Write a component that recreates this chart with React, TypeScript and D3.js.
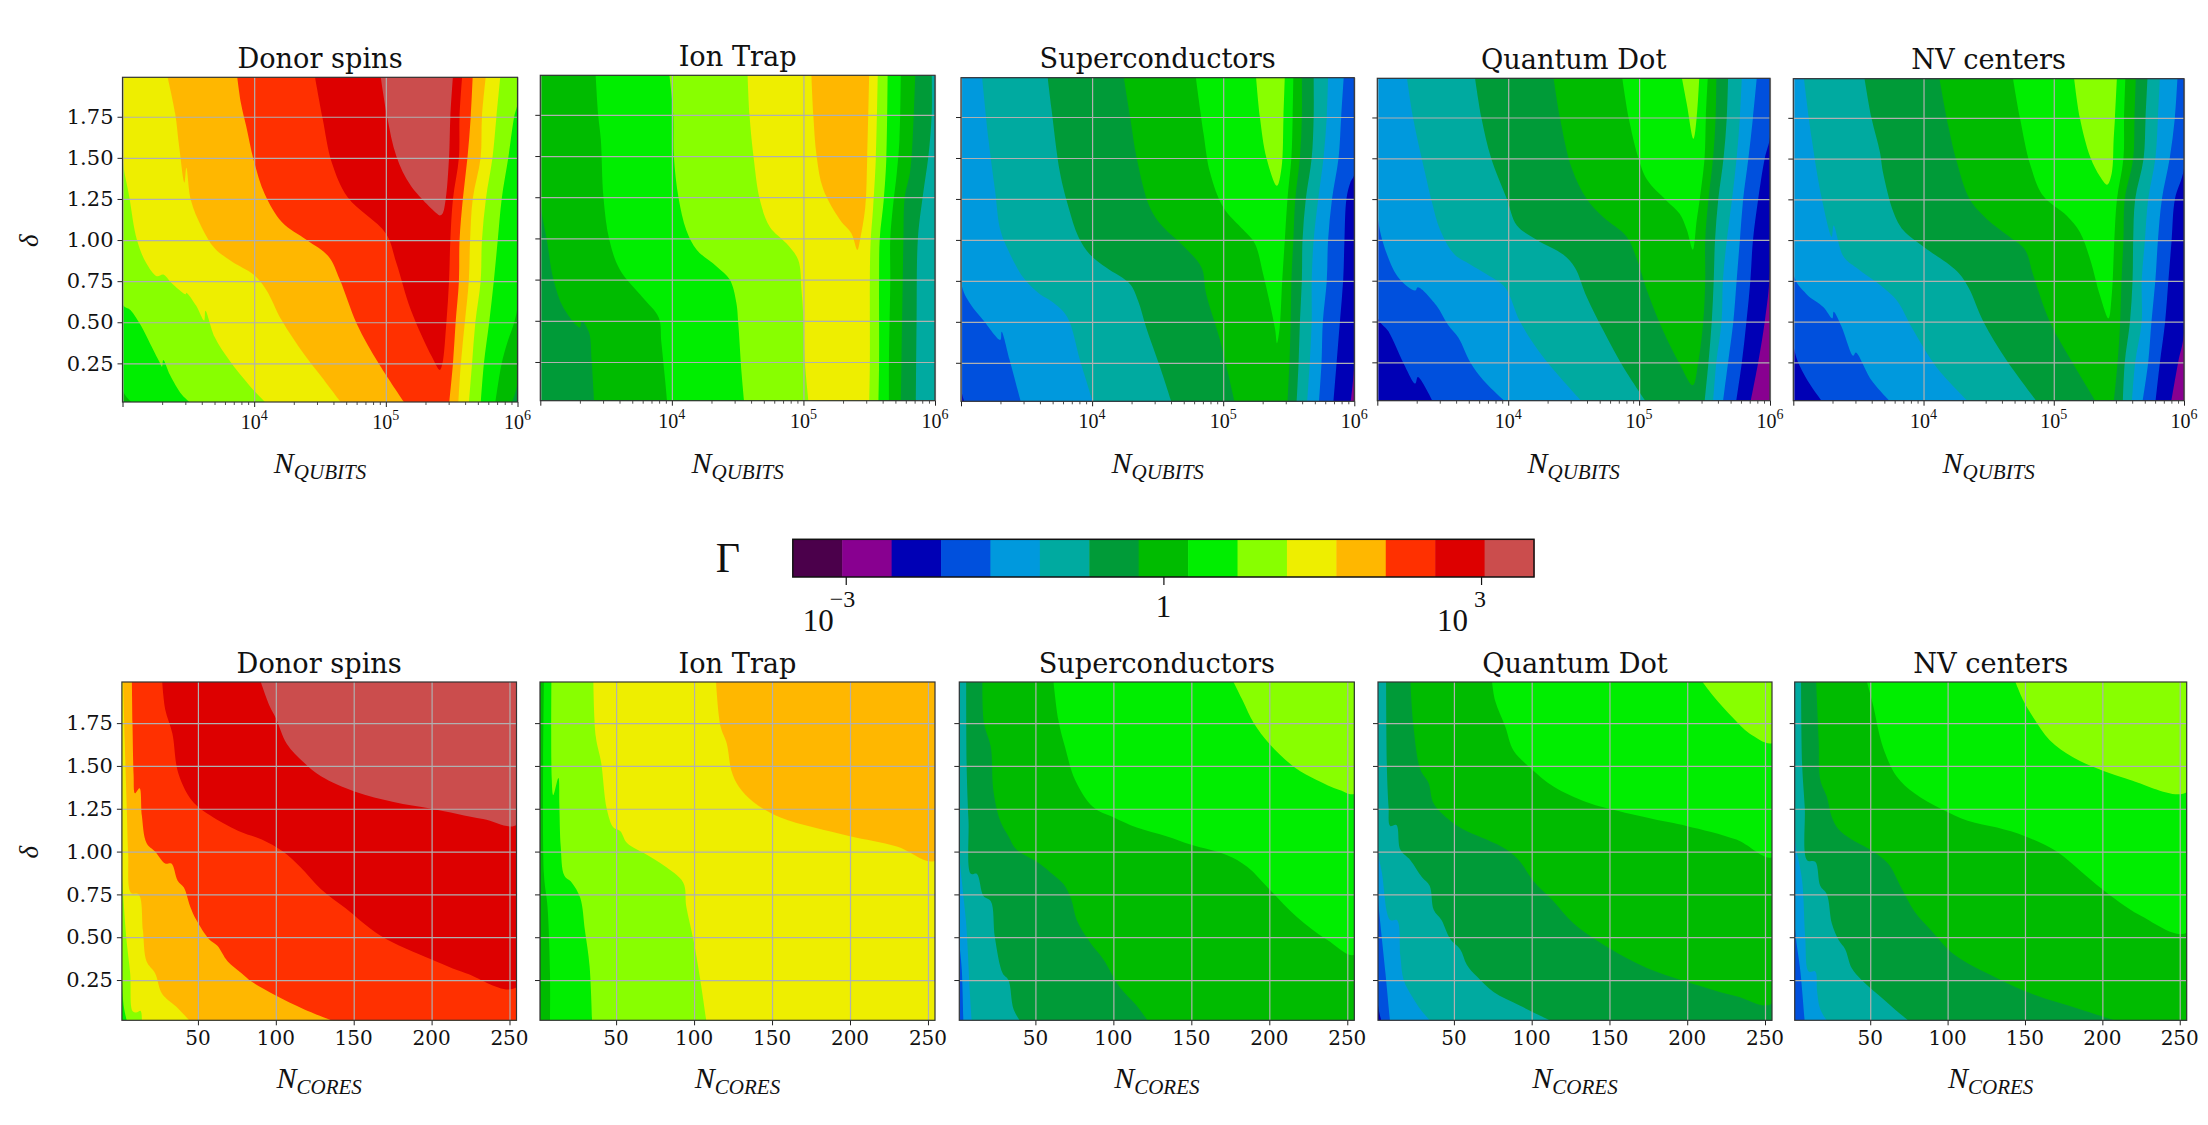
import { useEffect, useRef } from 'react';
import * as d3 from 'd3';

type Pt = [number, number];
type Band = [number, Pt[]];

// Gamma bins of the colour bar, lowest first
const GAMMA_COLORS = ['#4b004b', '#880090', '#0000b5', '#0050dd', '#0099dd', '#00aaa0', '#009b38', '#00bb00', '#00ee00', '#88ff00', '#eeee00', '#ffb700', '#ff3000', '#dd0000', '#cb4d4d'];
const TITLES = ['Donor spins', 'Ion Trap', 'Superconductors', 'Quantum Dot', 'NV centers'];
const DELTA_TICKS = [0.25, 0.5, 0.75, 1, 1.25, 1.5, 1.75];
const CORE_TICKS = [50, 100, 150, 200, 250];
const QUBIT_TICKS = [1e3, 1e4, 1e5, 1e6];

// Each band: [colour bin, outline of the region with Gamma at or above it]
// Top row points are [log10 N_qubits, delta], bottom row [N_cores, delta]
const donorQubits: Band[] = [
  [7, [[3, 2], [3, 0], [5.95, 0], [6, 0.13], [6, 2]]],
  [8, [[3, 2], [3, 0.09], [3.09, 0], [5.83, 0], [5.88, 0.25], [5.92, 0.37], [5.975, 0.5], [6, 0.6], [6, 2]]],
  [9, [[3, 2], [3, 0.61], [3.06, 0.575], [3.14, 0.48], [3.21, 0.37], [3.28, 0.26], [3.3, 0.23], [3.31, 0.27], [3.36, 0.18], [3.45, 0.06], [3.53, 0], [5.72, 0], [5.745, 0.25], [5.785, 0.5], [5.82, 0.75], [5.85, 1], [5.88, 1.25], [5.93, 1.5], [5.975, 1.75], [6, 1.83], [6, 2]]],
  [10, [[3, 2], [3, 1.5], [3.05, 1.27], [3.11, 1], [3.18, 0.86], [3.26, 0.78], [3.31, 0.79], [3.37, 0.74], [3.48, 0.67], [3.485, 0.68], [3.56, 0.6], [3.62, 0.51], [3.63, 0.57], [3.7, 0.41], [3.81, 0.27], [3.97, 0.11], [4.1, 0], [5.63, 0], [5.655, 0.25], [5.68, 0.5], [5.72, 0.75], [5.73, 1], [5.76, 1.25], [5.81, 1.5], [5.84, 1.75], [5.87, 2]]],
  [11, [[3.34, 2], [3.4, 1.77], [3.43, 1.57], [3.47, 1.35], [3.485, 1.44], [3.52, 1.24], [3.6, 1.08], [3.7, 0.95], [3.83, 0.87], [3.995, 0.79], [4.09, 0.7], [4.21, 0.51], [4.375, 0.31], [4.51, 0.17], [4.67, 0], [5.55, 0], [5.57, 0.25], [5.6, 0.5], [5.63, 0.75], [5.64, 1], [5.66, 1.25], [5.72, 1.5], [5.73, 1.75], [5.76, 2]]],
  [12, [[3.87, 2], [3.9, 1.83], [3.94, 1.69], [3.995, 1.49], [4.08, 1.28], [4.21, 1.11], [4.4, 1], [4.565, 0.9], [4.65, 0.76], [4.78, 0.49], [4.945, 0.25], [5.15, 0], [5.48, 0], [5.51, 0.25], [5.53, 0.5], [5.555, 0.75], [5.56, 1], [5.585, 1.25], [5.62, 1.5], [5.645, 1.75], [5.66, 2]]],
  [13, [[4.46, 2], [4.52, 1.74], [4.59, 1.47], [4.71, 1.26], [5, 1.04], [5.08, 0.86], [5.19, 0.575], [5.35, 0.29], [5.41, 0.21], [5.43, 0.25], [5.46, 0.5], [5.48, 0.75], [5.49, 1], [5.51, 1.25], [5.555, 1.5], [5.56, 1.75], [5.58, 2]]],
  [14, [[4.96, 2], [5.01, 1.75], [5.08, 1.51], [5.19, 1.33], [5.39, 1.16], [5.41, 1.15], [5.43, 1.16], [5.455, 1.25], [5.48, 1.5], [5.49, 1.75], [5.51, 2]]],
];

const ionQubits: Band[] = [
  [6, [[3, 2], [3, 0], [5.855, 0], [5.86, 0.5], [5.87, 1], [5.906, 1.25], [5.95, 1.5], [5.975, 1.75], [5.975, 2]]],
  [7, [[3, 2], [3, 1.23], [3.05, 0.99], [3.1, 0.75], [3.175, 0.58], [3.3, 0.46], [3.315, 0.5], [3.37, 0.43], [3.39, 0.26], [3.41, 0], [5.74, 0], [5.745, 0.25], [5.755, 0.75], [5.76, 1], [5.77, 1.25], [5.81, 1.4], [5.83, 1.6], [5.85, 2]]],
  [8, [[3.42, 2], [3.44, 1.75], [3.46, 1.6], [3.48, 1.25], [3.525, 0.99], [3.605, 0.81], [3.78, 0.64], [3.9, 0.52], [3.92, 0.37], [3.95, 0.13], [3.965, 0], [5.65, 0], [5.65, 0.25], [5.66, 0.75], [5.66, 1], [5.68, 1.19], [5.71, 1.4], [5.73, 1.6], [5.74, 2]]],
  [9, [[3.98, 2], [4.01, 1.76], [4.015, 1.5], [4.05, 1.25], [4.11, 1.05], [4.19, 0.93], [4.34, 0.83], [4.44, 0.75], [4.49, 0.61], [4.505, 0.48], [4.53, 0.18], [4.55, 0], [5.57, 0], [5.575, 0.25], [5.575, 0.75], [5.58, 1], [5.61, 1.23], [5.63, 1.48], [5.64, 2]]],
  [10, [[4.575, 2], [4.59, 1.75], [4.62, 1.5], [4.67, 1.23], [4.745, 1.07], [4.87, 0.97], [4.96, 0.87], [4.985, 0.69], [5, 0.51], [5.01, 0.26], [5.04, 0], [5.5, 0], [5.505, 0.25], [5.505, 0.75], [5.51, 0.97], [5.53, 1.19], [5.55, 1.48], [5.565, 2]]],
  [11, [[5.06, 2], [5.075, 1.75], [5.1, 1.5], [5.15, 1.3], [5.28, 1.11], [5.365, 1.03], [5.41, 0.93], [5.43, 0.99], [5.47, 1.19], [5.485, 1.5], [5.5, 2]]],
];

const scQubits: Band[] = [
  [2, [[3, 2], [3, 0], [5.97, 0], [6, 0.25], [6, 2]]],
  [3, [[3, 2], [3, 0.1], [3.03, 0], [5.84, 0], [5.865, 0.25], [5.89, 0.5], [5.915, 0.75], [5.925, 1], [5.94, 1.25], [5.97, 1.35], [6, 1.4], [6, 2]]],
  [4, [[3, 2], [3, 0.74], [3.07, 0.61], [3.17, 0.51], [3.3, 0.39], [3.31, 0.44], [3.37, 0.27], [3.45, 0.03], [3.46, 0], [5.73, 0], [5.75, 0.25], [5.76, 0.5], [5.79, 0.75], [5.8, 1], [5.83, 1.25], [5.88, 1.5], [5.9, 1.75], [5.92, 2]]],
  [5, [[3.16, 2], [3.21, 1.61], [3.26, 1.3], [3.3, 1.06], [3.37, 0.92], [3.475, 0.77], [3.6, 0.67], [3.7, 0.62], [3.81, 0.53], [3.91, 0.26], [4.01, 0], [5.64, 0], [5.66, 0.25], [5.675, 0.5], [5.675, 0.75], [5.69, 1], [5.725, 1.25], [5.765, 1.5], [5.79, 1.75], [5.8, 2]]],
  [6, [[3.66, 2], [3.69, 1.8], [3.755, 1.41], [3.82, 1.2], [3.895, 1.02], [3.985, 0.91], [4.11, 0.83], [4.29, 0.73], [4.35, 0.63], [4.415, 0.46], [4.52, 0.22], [4.61, 0], [5.56, 0], [5.575, 0.25], [5.585, 0.5], [5.6, 0.75], [5.605, 1], [5.63, 1.25], [5.675, 1.5], [5.69, 1.75], [5.69, 2]]],
  [7, [[4.24, 2], [4.29, 1.75], [4.34, 1.5], [4.44, 1.2], [4.54, 1.08], [4.7, 0.96], [4.835, 0.83], [4.87, 0.67], [4.975, 0.39], [5.09, 0], [5.49, 0], [5.505, 0.25], [5.515, 0.5], [5.52, 0.75], [5.535, 1], [5.55, 1.25], [5.585, 1.5], [5.6, 1.75], [5.6, 2]]],
  [8, [[4.79, 2], [4.85, 1.65], [4.9, 1.41], [5, 1.2], [5.155, 1.06], [5.24, 0.98], [5.305, 0.79], [5.395, 0.46], [5.41, 0.37], [5.43, 0.46], [5.45, 0.75], [5.47, 1], [5.49, 1.25], [5.52, 1.5], [5.53, 1.75], [5.535, 2]]],
  [9, [[5.25, 2], [5.28, 1.75], [5.33, 1.5], [5.41, 1.33], [5.445, 1.44], [5.46, 1.75], [5.47, 2]]],
];

const dotQubits: Band[] = [
  [2, [[3, 2], [3, 0], [5.85, 0], [5.91, 0.25], [5.96, 0.5], [6, 0.81], [6, 2]]],
  [3, [[3, 2], [3, 0.53], [3.085, 0.44], [3.2, 0.245], [3.29, 0.12], [3.31, 0.16], [3.43, 0], [5.74, 0], [5.785, 0.25], [5.82, 0.5], [5.85, 0.75], [5.87, 1], [5.91, 1.25], [5.96, 1.5], [6, 1.63], [6, 2]]],
  [4, [[3, 2], [3, 1.16], [3.07, 0.92], [3.17, 0.76], [3.29, 0.69], [3.31, 0.71], [3.45, 0.6], [3.54, 0.48], [3.62, 0.4], [3.71, 0.25], [3.81, 0.14], [3.99, 0], [5.64, 0], [5.68, 0.25], [5.72, 0.5], [5.745, 0.75], [5.77, 1], [5.795, 1.25], [5.835, 1.5], [5.87, 1.75], [5.9, 2]]],
  [5, [[3.225, 2], [3.275, 1.74], [3.365, 1.41], [3.415, 1.24], [3.48, 1.06], [3.59, 0.91], [3.71, 0.85], [3.835, 0.79], [3.975, 0.71], [4.09, 0.5], [4.27, 0.28], [4.575, 0], [5.565, 0], [5.59, 0.25], [5.63, 0.5], [5.64, 0.75], [5.67, 1], [5.71, 1.25], [5.745, 1.5], [5.77, 1.75], [5.785, 2]]],
  [6, [[3.745, 2], [3.795, 1.75], [3.87, 1.5], [3.99, 1.25], [4.065, 1.09], [4.22, 1], [4.42, 0.91], [4.51, 0.83], [4.6, 0.65], [4.73, 0.44], [4.88, 0.22], [5.06, 0], [5.5, 0], [5.53, 0.25], [5.555, 0.5], [5.57, 0.75], [5.58, 1], [5.605, 1.25], [5.645, 1.5], [5.67, 1.75], [5.68, 2]]],
  [7, [[4.345, 2], [4.395, 1.75], [4.485, 1.44], [4.6, 1.25], [4.725, 1.14], [4.905, 1.02], [4.98, 0.89], [5.06, 0.69], [5.185, 0.44], [5.31, 0.24], [5.41, 0.11], [5.45, 0.24], [5.49, 0.5], [5.505, 0.75], [5.505, 1], [5.53, 1.25], [5.565, 1.5], [5.585, 1.75], [5.59, 2]]],
  [8, [[4.87, 2], [4.92, 1.75], [4.995, 1.5], [5.06, 1.37], [5.21, 1.24], [5.31, 1.16], [5.365, 1.06], [5.41, 0.94], [5.44, 1.12], [5.465, 1.26], [5.5, 1.5], [5.51, 1.75], [5.525, 2]]],
  [9, [[5.325, 2], [5.365, 1.83], [5.415, 1.62], [5.44, 1.75], [5.46, 2]]],
];

const nvQubits: Band[] = [
  [2, [[3, 2], [3, 0], [5.9, 0], [5.955, 0.25], [6, 0.43], [6, 2]]],
  [3, [[3, 2], [3, 0.36], [3.08, 0.18], [3.23, 0], [5.78, 0], [5.815, 0.25], [5.855, 0.5], [5.88, 0.75], [5.905, 1], [5.93, 1.25], [6, 1.44], [6, 2]]],
  [4, [[3, 2], [3, 0.79], [3.1, 0.67], [3.23, 0.59], [3.3, 0.52], [3.31, 0.56], [3.37, 0.47], [3.46, 0.29], [3.48, 0.31], [3.6, 0.14], [3.755, 0], [5.68, 0], [5.725, 0.25], [5.75, 0.5], [5.78, 0.75], [5.8, 1], [5.83, 1.25], [5.89, 1.5], [5.93, 1.75], [5.95, 2]]],
  [5, [[3.08, 2], [3.14, 1.63], [3.22, 1.25], [3.295, 1.02], [3.31, 1.09], [3.385, 0.9], [3.485, 0.83], [3.69, 0.71], [3.795, 0.63], [3.92, 0.45], [4.1, 0.22], [4.355, 0], [5.6, 0], [5.625, 0.25], [5.675, 0.5], [5.675, 0.75], [5.7, 1], [5.725, 1.25], [5.78, 1.5], [5.8, 1.75], [5.815, 2]]],
  [6, [[3.545, 2], [3.6, 1.75], [3.665, 1.54], [3.69, 1.41], [3.77, 1.17], [3.845, 1.06], [4, 0.96], [4.255, 0.81], [4.345, 0.71], [4.46, 0.5], [4.64, 0.26], [4.88, 0], [5.53, 0], [5.545, 0.25], [5.585, 0.5], [5.605, 0.75], [5.61, 1], [5.625, 1.25], [5.69, 1.5], [5.705, 1.75], [5.72, 2]]],
  [7, [[4.12, 2], [4.19, 1.7], [4.255, 1.48], [4.355, 1.25], [4.485, 1.13], [4.66, 1.02], [4.78, 0.94], [4.84, 0.79], [4.97, 0.5], [5.15, 0.24], [5.33, 0], [5.46, 0], [5.49, 0.25], [5.51, 0.5], [5.52, 0.75], [5.535, 1], [5.545, 1.25], [5.61, 1.5], [5.62, 1.75], [5.63, 2]]],
  [8, [[4.685, 2], [4.74, 1.75], [4.82, 1.46], [4.92, 1.27], [5.1, 1.15], [5.2, 1.05], [5.28, 0.88], [5.355, 0.66], [5.42, 0.52], [5.445, 0.66], [5.465, 1], [5.485, 1.25], [5.535, 1.5], [5.54, 1.75], [5.55, 2]]],
  [9, [[5.155, 2], [5.2, 1.75], [5.28, 1.51], [5.355, 1.39], [5.41, 1.34], [5.445, 1.41], [5.46, 1.62], [5.47, 1.75], [5.485, 2]]],
];

const donorCores: Band[] = [
  [9, [[1, 2], [1, 0.3], [2.5, 0.09], [4.7, 0], [255, 0], [255, 2]]],
  [10, [[1, 2], [1, 0.95], [2, 0.75], [4.3, 0.47], [6.5, 0.29], [8, 0.07], [10.3, 0.06], [13.2, 0.07], [14, 0], [255, 0], [255, 2]]],
  [11, [[2, 2], [3, 1.65], [4.3, 1.26], [5.2, 0.99], [7, 0.76], [12, 0.75], [14.7, 0.54], [17, 0.36], [22.5, 0.29], [27, 0.17], [36, 0.095], [46, 0], [255, 0], [255, 2]]],
  [12, [[7.6, 2], [8, 1.75], [8.7, 1.45], [9.6, 1.34], [12.5, 1.37], [14, 1.21], [17, 1.05], [22.5, 1], [29, 0.93], [33, 0.93], [37, 0.83], [41, 0.79], [45, 0.68], [49, 0.6], [57, 0.49], [62.5, 0.45], [69, 0.36], [78, 0.29], [84.6, 0.24], [100, 0.16], [118, 0.08], [140, 0], [255, 0], [255, 2]]],
  [13, [[27, 2], [29, 1.83], [33.6, 1.69], [37, 1.47], [43.6, 1.33], [49, 1.27], [58, 1.21], [76, 1.12], [91, 1.07], [104.6, 1], [115.7, 0.91], [129, 0.78], [144.6, 0.67], [167, 0.51], [200, 0.37], [222, 0.29], [255, 0.21], [255, 2]]],
  [14, [[90, 2], [96, 1.85], [100, 1.78], [107, 1.63], [118, 1.52], [129, 1.44], [151, 1.35], [175.6, 1.29], [200, 1.25], [233, 1.19], [255, 1.16], [255, 2]]],
];

const ionCores: Band[] = [
  [8, [[3.7, 2], [3.7, 0.87], [6, 0.68], [7.6, 0.29], [7.6, 0], [255, 0], [255, 2]]],
  [9, [[8.5, 2], [8.7, 1.43], [9.7, 1.33], [13, 1.43], [13.6, 1.27], [14.5, 1.03], [16.8, 0.86], [21.5, 0.82], [27, 0.73], [30, 0.54], [33, 0.33], [34.6, 0], [255, 0], [255, 2]]],
  [10, [[35.4, 2], [37, 1.67], [40.4, 1.52], [44, 1.25], [48.3, 1.14], [52.6, 1.12], [57, 1.05], [70, 0.98], [80.4, 0.92], [93, 0.82], [95, 0.68], [99.7, 0.48], [104, 0.25], [108, 0], [255, 0], [255, 2]]],
  [11, [[114, 2], [117, 1.73], [121, 1.63], [124, 1.47], [128.6, 1.38], [138, 1.29], [155, 1.2], [177, 1.14], [200, 1.09], [230, 1.03], [255, 0.95], [255, 2]]],
];

const scCores: Band[] = [
  [4, [[1, 2], [1, 0.52], [2.8, 0.31], [3.8, 0], [255, 0], [255, 2]]],
  [5, [[1, 2], [1, 1.03], [2.8, 0.83], [5.6, 0.58], [8, 0.17], [9.2, 0], [255, 0], [255, 2]]],
  [6, [[5.6, 2], [6, 1.46], [7.1, 1.18], [8.6, 0.87], [12.4, 0.87], [16.7, 0.74], [21.4, 0.71], [24, 0.5], [29, 0.29], [32.7, 0.25], [36, 0.08], [41, 0], [255, 0], [255, 2]]],
  [7, [[16, 2], [17, 1.75], [21.4, 1.61], [23, 1.36], [27.4, 1.18], [32.7, 1.09], [38, 1.01], [50.9, 0.94], [59.4, 0.88], [68, 0.81], [73, 0.72], [76.5, 0.6], [85, 0.47], [93.6, 0.37], [104, 0.21], [115, 0.1], [123, 0], [255, 0], [255, 2]]],
  [8, [[61.5, 2], [64.7, 1.77], [69, 1.61], [75.4, 1.42], [87, 1.26], [100, 1.2], [115, 1.14], [134, 1.09], [150, 1.04], [172.6, 0.98], [186, 0.91], [200, 0.78], [217.5, 0.62], [237, 0.485], [255, 0.4], [255, 2]]],
  [9, [[176.5, 2], [183, 1.88], [190, 1.75], [200, 1.63], [216.5, 1.49], [230, 1.42], [245, 1.36], [255, 1.34], [255, 2]]],
];

const dotCores: Band[] = [
  [3, [[1, 2], [1, 0.12], [3.8, 0], [255, 0], [255, 2]]],
  [4, [[1, 2], [1, 0.76], [2.7, 0.58], [6, 0.29], [9, 0], [255, 0], [255, 2]]],
  [5, [[1, 2], [1, 1.03], [3.8, 0.87], [9, 0.6], [13.4, 0.6], [15.6, 0.39], [17.7, 0.25], [23, 0.155], [28.4, 0.08], [36, 0], [255, 0], [255, 2]]],
  [6, [[6.4, 2], [7, 1.46], [8, 1.26], [9, 1.15], [13, 1.155], [15.6, 1.01], [22, 0.95], [29.5, 0.85], [34.4, 0.8], [37, 0.66], [42, 0.6], [47.6, 0.49], [54, 0.43], [58.3, 0.34], [64.8, 0.27], [75.5, 0.18], [92.6, 0.1], [115, 0], [255, 0], [255, 2]]],
  [7, [[22, 2], [24, 1.73], [28.4, 1.48], [33.7, 1.4], [37, 1.28], [47.6, 1.18], [58, 1.12], [71, 1.07], [84, 1.01], [92.6, 0.94], [101, 0.83], [114, 0.71], [127, 0.58], [150, 0.435], [174, 0.32], [199.5, 0.24], [231.6, 0.155], [255, 0.116], [255, 2]]],
  [8, [[74.4, 2], [76.5, 1.88], [83, 1.73], [88.3, 1.59], [99, 1.49], [114, 1.38], [135, 1.29], [150, 1.25], [178, 1.19], [199.5, 1.15], [231.6, 1.07], [255, 0.97], [255, 2]]],
  [9, [[209, 2], [216.6, 1.91], [229.5, 1.78], [240, 1.69], [255, 1.635], [255, 2]]],
];

const nvCores: Band[] = [
  [4, [[1, 2], [1, 0.6], [5, 0.29], [7.7, 0], [255, 0], [255, 2]]],
  [5, [[1, 2], [1, 1.1], [6, 0.83], [8, 0.5], [10.3, 0.3], [14.5, 0.3], [15.6, 0.19], [17.7, 0.08], [23, 0], [255, 0], [255, 2]]],
  [6, [[5.3, 2], [6, 1.51], [7.7, 1.26], [9.2, 0.95], [14.5, 0.94], [17.7, 0.8], [22, 0.75], [25.2, 0.58], [29.5, 0.485], [33.8, 0.43], [38, 0.32], [44.4, 0.25], [55, 0.165], [65.8, 0.08], [76.5, 0], [255, 0], [255, 2]]],
  [7, [[15, 2], [16.7, 1.65], [17.7, 1.42], [22, 1.32], [25.2, 1.2], [29.5, 1.13], [38, 1.07], [50, 1.01], [61.5, 0.93], [70, 0.79], [78.6, 0.65], [89.3, 0.54], [104, 0.4], [132, 0.26], [155.6, 0.165], [185.5, 0.08], [213, 0], [255, 0], [255, 2]]],
  [8, [[47.6, 2], [52, 1.85], [56, 1.68], [59.4, 1.58], [67, 1.44], [78.6, 1.34], [95.7, 1.25], [113, 1.18], [132, 1.14], [150, 1.09], [170.5, 1], [185.5, 0.89], [200, 0.78], [224, 0.63], [255, 0.53], [255, 2]]],
  [9, [[143.4, 2], [149, 1.88], [155.6, 1.78], [166, 1.65], [181, 1.55], [198, 1.48], [217.5, 1.42], [255, 1.35], [255, 2]]],
];

const QUBIT_BANDS = [donorQubits, ionQubits, scQubits, dotQubits, nvQubits];
const CORE_BANDS = [donorCores, ionCores, scCores, dotCores, nvCores];
const QUBIT_BASE = [6, 5, 1, 1, 1];
const CORE_BASE = [8, 7, 3, 2, 3];

// Panel boxes in pixels: left, right, top, bottom
const TOP_BOXES = [[122.5, 517.5, 77.3, 402], [540.3, 935, 75.3, 400.7], [961, 1354.3, 77.7, 401.3], [1377.3, 1770, 78.3, 400.7], [1793.3, 2184, 78.7, 400.7]];
const BOTTOM_BOXES = [[121.9, 516.5, 682, 1020.3], [540, 935, 682, 1020.3], [959.3, 1354.3, 682, 1020.3], [1378, 1772, 682, 1020.3], [1794.7, 2186.7, 682, 1020.3]];

const SERIF = '"DejaVu Serif", serif';
const MATH = '"Liberation Serif", serif';

type Sel = d3.Selection<SVGGElement, unknown, null, undefined>;

// Smooth the contour runs, but keep the stretch along the bottom edge straight
function regionPath(pts: Pt[], line: d3.Line<Pt>) {
  const cut = pts.findIndex((p, i) => i > 0 && p[1] === 0 && pts[i + 1] && pts[i + 1][1] === 0);
  if (cut < 0) return `${line(pts)}Z`;
  const first = line(pts.slice(0, cut + 1)) ?? '';
  const second = line(pts.slice(cut + 1)) ?? '';
  return `${first}L${second.slice(1)}Z`;
}

function drawPanel(root: Sel, id: string, box: number[], base: number, bands: Band[], title: string, top: boolean, showY: boolean) {
  const [L, R, T, B] = box;
  const W = R - L;
  const H = B - T;
  const y = d3.scaleLinear().domain([0.015, 1.99]).range([H, 0]);
  const xLog = d3.scaleLog().domain([1e3, 1e6]).range([0, W]);
  const xLin = d3.scaleLinear().domain([1.2, 254.5]).range([0, W]);
  const px = (v: number) => (top ? xLog(10 ** v) : xLin(v));

  const g = root.append('g').attr('transform', `translate(${L},${T})`);
  g.append('clipPath').attr('id', id).append('rect').attr('width', W).attr('height', H);

  const regions = g.append('g').attr('clip-path', `url(#${id})`);
  regions.append('rect').attr('width', W).attr('height', H).attr('fill', GAMMA_COLORS[base]);
  const line = d3.line<Pt>().x(d => px(d[0])).y(d => y(d[1])).curve(d3.curveCatmullRom.alpha(0.5));
  bands.forEach(([level, pts]) => {
    regions.append('path').attr('d', regionPath(pts, line)).attr('fill', GAMMA_COLORS[level]);
  });

  const xAxis = (size: number) =>
    top
      ? d3.axisBottom(xLog).tickValues(QUBIT_TICKS).tickSize(size).tickFormat(() => '')
      : d3.axisBottom(xLin).tickValues(CORE_TICKS).tickSize(size).tickFormat(() => '');

  // Grid lines
  g.append('g')
    .attr('transform', `translate(0,${H})`)
    .call(xAxis(-H) as never)
    .call(sel => sel.select('.domain').remove())
    .call(sel => sel.selectAll('line').attr('stroke', '#b0b0b0').attr('stroke-width', 1.2));
  g.append('g')
    .call(d3.axisLeft(y).tickValues(DELTA_TICKS).tickSize(-W).tickFormat(() => ''))
    .call(sel => sel.select('.domain').remove())
    .call(sel => sel.selectAll('line').attr('stroke', '#b0b0b0').attr('stroke-width', 1.2));

  // Axes
  const bottom = g.append('g').attr('transform', `translate(0,${H})`).call(xAxis(5) as never);
  bottom.select('.domain').remove();
  bottom.selectAll('line').attr('stroke', '#222').attr('stroke-width', 1);
  bottom.selectAll('text').remove();

  if (top) {
    const minor = xLog.ticks().filter(d => !QUBIT_TICKS.includes(d));
    const minorAxis = g.append('g').attr('transform', `translate(0,${H})`)
      .call(d3.axisBottom(xLog).tickValues(minor).tickSize(3).tickFormat(() => ''));
    minorAxis.select('.domain').remove();
    minorAxis.selectAll('line').attr('stroke', '#222').attr('stroke-width', 0.8);
    [4, 5, 6].forEach(e => {
      const t = g.append('text')
        .attr('x', xLog(10 ** e)).attr('y', H + 27)
        .attr('text-anchor', 'middle').attr('fill', '#111')
        .attr('font-family', MATH).attr('font-size', 20);
      t.append('tspan').text('10');
      t.append('tspan').attr('dy', -9).attr('font-size', 14).text(String(e));
    });
  } else {
    CORE_TICKS.forEach(v => {
      g.append('text')
        .attr('x', xLin(v)).attr('y', H + 25)
        .attr('text-anchor', 'middle').attr('fill', '#111')
        .attr('font-family', SERIF).attr('font-size', 20)
        .text(v);
    });
  }

  const left = g.append('g')
    .call(d3.axisLeft(y).tickValues(DELTA_TICKS).tickSize(5).tickFormat(d => (showY ? (+d).toFixed(2) : '')));
  left.select('.domain').remove();
  left.selectAll('line').attr('stroke', '#222').attr('stroke-width', 1);
  left.selectAll('text').attr('fill', '#111').attr('font-family', SERIF).attr('font-size', 21).attr('dx', -1);

  g.append('rect').attr('width', W).attr('height', H).attr('fill', 'none').attr('stroke', '#333').attr('stroke-width', 1.2);

  g.append('text')
    .attr('x', W / 2).attr('y', -9.5)
    .attr('text-anchor', 'middle').attr('fill', '#111')
    .attr('font-family', SERIF).attr('font-size', 27.2)
    .text(title);

  // Axis label with subscript
  const label = g.append('text')
    .attr('x', W / 2).attr('y', top ? 473 - T : 1088 - T)
    .attr('text-anchor', 'middle').attr('fill', '#111')
    .attr('font-family', MATH).attr('font-style', 'italic').attr('font-size', 30);
  label.append('tspan').text('N');
  label.append('tspan').attr('dy', 6).attr('font-size', 21).text(top ? 'QUBITS' : 'CORES');

  if (showY) {
    g.append('text')
      .attr('transform', `translate(${32 - L},${H / 2 + 1}) rotate(-90)`)
      .attr('text-anchor', 'middle').attr('dominant-baseline', 'middle').attr('fill', '#111')
      .attr('font-family', MATH).attr('font-style', 'italic').attr('font-size', 27)
      .text('δ');
  }
}

function drawColorbar(root: Sel) {
  const L = 792.8;
  const R = 1534;
  const T = 539.3;
  const B = 577;
  const g = root.append('g').attr('transform', `translate(${L},${T})`);
  const W = R - L;
  const H = B - T;
  const x = d3.scaleLog().domain([10 ** -3.5, 10 ** 3.5]).range([0, W]);
  const step = 7 / GAMMA_COLORS.length;
  GAMMA_COLORS.forEach((c, i) => {
    const x0 = x(10 ** (-3.5 + i * step));
    const x1 = x(10 ** (-3.5 + (i + 1) * step));
    g.append('rect').attr('x', x0).attr('width', x1 - x0 + 0.5).attr('height', H).attr('fill', c);
  });
  g.append('rect').attr('width', W).attr('height', H).attr('fill', 'none').attr('stroke', '#111').attr('stroke-width', 1.5);

  const axis = g.append('g').attr('transform', `translate(0,${H})`)
    .call(d3.axisBottom(x).tickValues([1e-3, 1, 1e3]).tickSize(8).tickFormat(() => ''));
  axis.select('.domain').remove();
  axis.selectAll('line').attr('stroke', '#111').attr('stroke-width', 1.2);

  const power = (v: number, e: string, dx: number, gap: number) => {
    const t = g.append('text')
      .attr('x', x(v) + dx).attr('y', 631 - T)
      .attr('text-anchor', 'start').attr('fill', '#111')
      .attr('font-family', MATH).attr('font-size', 31);
    t.append('tspan').text('10');
    t.append('tspan').attr('dy', -24).attr('dx', gap).attr('font-size', 24).text(e);
  };
  power(1e-3, '−3', -43, -4);
  power(1e3, '3', -44, 6);
  g.append('text')
    .attr('x', x(1)).attr('y', 617 - T)
    .attr('text-anchor', 'middle').attr('fill', '#111')
    .attr('font-family', MATH).attr('font-size', 31)
    .text('1');

  root.append('text')
    .attr('x', 728).attr('y', 572)
    .attr('text-anchor', 'middle').attr('fill', '#111')
    .attr('font-family', MATH).attr('font-size', 42)
    .text('Γ');
}

export default function App() {
  const svgRef = useRef<SVGSVGElement>(null);

  useEffect(() => {
    if (!svgRef.current) return;
    const svg = d3.select(svgRef.current);
    svg.selectAll('*').remove();
    const root = svg.append('g') as unknown as Sel;

    TITLES.forEach((title, i) => {
      drawPanel(root, `top-${i}`, TOP_BOXES[i], QUBIT_BASE[i], QUBIT_BANDS[i], title, true, i === 0);
      drawPanel(root, `bot-${i}`, BOTTOM_BOXES[i], CORE_BASE[i], CORE_BANDS[i], title, false, i === 0);
    });
    drawColorbar(root);
  }, []);

  return (
    <svg
      ref={svgRef}
      width={2208}
      height={1125}
      style={{ position: 'absolute', left: 0, top: 0, background: '#fff' }}
    />
  );
}
